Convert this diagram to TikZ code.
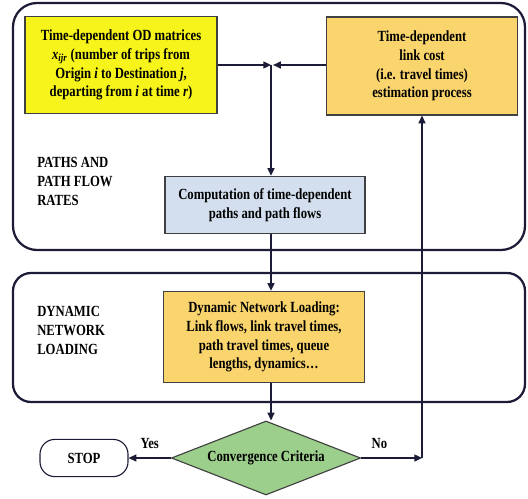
\documentclass[tikz,border=0pt]{standalone}
\usepackage{fontspec}
\setmainfont{Liberation Serif}[FakeStretch=0.82]
\usepackage{tikz}
\usetikzlibrary{shapes.geometric, arrows.meta, positioning}

\definecolor{odyellow}{HTML}{F6F41A}
\definecolor{costorange}{HTML}{FAD46C}
\definecolor{compblue}{HTML}{D3DFEE}
\definecolor{convgreen}{HTML}{9CCE8C}
\definecolor{inkline}{HTML}{1C1C38}

\begin{document}
\begin{tikzpicture}[
  x=0.025cm, y=-0.025cm,
  box/.style={draw=black!75, line width=0.8pt, align=center, inner sep=2pt,
    font=\bfseries\fontsize{11}{13.3}\selectfont},
  frame/.style={draw=inkline, line width=1.6pt},
  lbl/.style={anchor=west, align=left, inner sep=0pt, font=\bfseries\fontsize{11}{13.5}\selectfont},
  arr/.style={-{Triangle[length=5.5pt,width=5pt]}, draw=inkline, line width=1pt}
]
\useasboundingbox (0,0) rectangle (528,499);

% the two phases
\draw[frame, rounded corners=0.6cm] (13,3) rectangle (525,250);
\draw[frame, rounded corners=0.45cm] (13,273) rectangle (525,402);

\node[lbl] (pathlbl) at (37,181) {PATHS AND\\PATH FLOW\\RATES};
\node[lbl] (dnllbl) at (37,330) {DYNAMIC\\NETWORK\\LOADING};

\node[box, fill=odyellow, minimum width=4.8cm, minimum height=2.43cm] (od) at (121,65)
  {Time-dependent OD matrices\\\textit{x}\textsubscript{\textit{ijr}} (number of trips from\\Origin \textit{i} to Destination \textit{j},\\departing from \textit{i} at time \textit{r})};
\node[box, fill=costorange, minimum width=4.78cm, minimum height=2.45cm] (cost) at (422,66)
  {Time-dependent\\link cost\\(i.e. travel times)\\estimation process};
\coordinate (junc) at (271,65);

\node[box, fill=compblue, minimum width=5cm, minimum height=1.43cm] (comp) at (265,205)
  {Computation of time-dependent\\paths and path flows};
\node[box, fill=costorange, minimum width=5.03cm, minimum height=2.28cm] (dnl) at (264,337)
  {Dynamic Network Loading:\\Link flows, link travel times,\\path travel times, queue\\lengths, dynamics\dots};

\node[box, diamond, aspect=2.55, fill=convgreen, inner sep=0pt, minimum width=4.73cm, minimum height=1.85cm] (conv) at (266,458)
  {Convergence Criteria};
\node[box, draw=inkline, rounded corners=0.37cm, minimum width=2.2cm, minimum height=0.93cm] (stop) at (84,458) {STOP};
\coordinate (back) at (422,458);

\draw[arr] (od.east |- junc) -- (junc);
\draw[arr] (cost.west |- junc) -- ([xshift=1.5pt]junc);
\draw[arr] (junc) -- (junc |- comp.north);
\draw[arr] (junc |- comp.south) -- (junc |- dnl.north);
\draw[arr] (junc |- dnl.south) -- (junc |- conv.north);
\draw[arr] (conv.west) -- (stop.east) node[pos=0.5, above=3pt, font=\bfseries\fontsize{11}{13}\selectfont] {Yes};
\draw[arr] (conv.east) -- (back) node[pos=0.3, above=3pt, font=\bfseries\fontsize{11}{13}\selectfont] {No};
\draw[arr] (back) -- (cost.south);

\end{tikzpicture}
\end{document}
